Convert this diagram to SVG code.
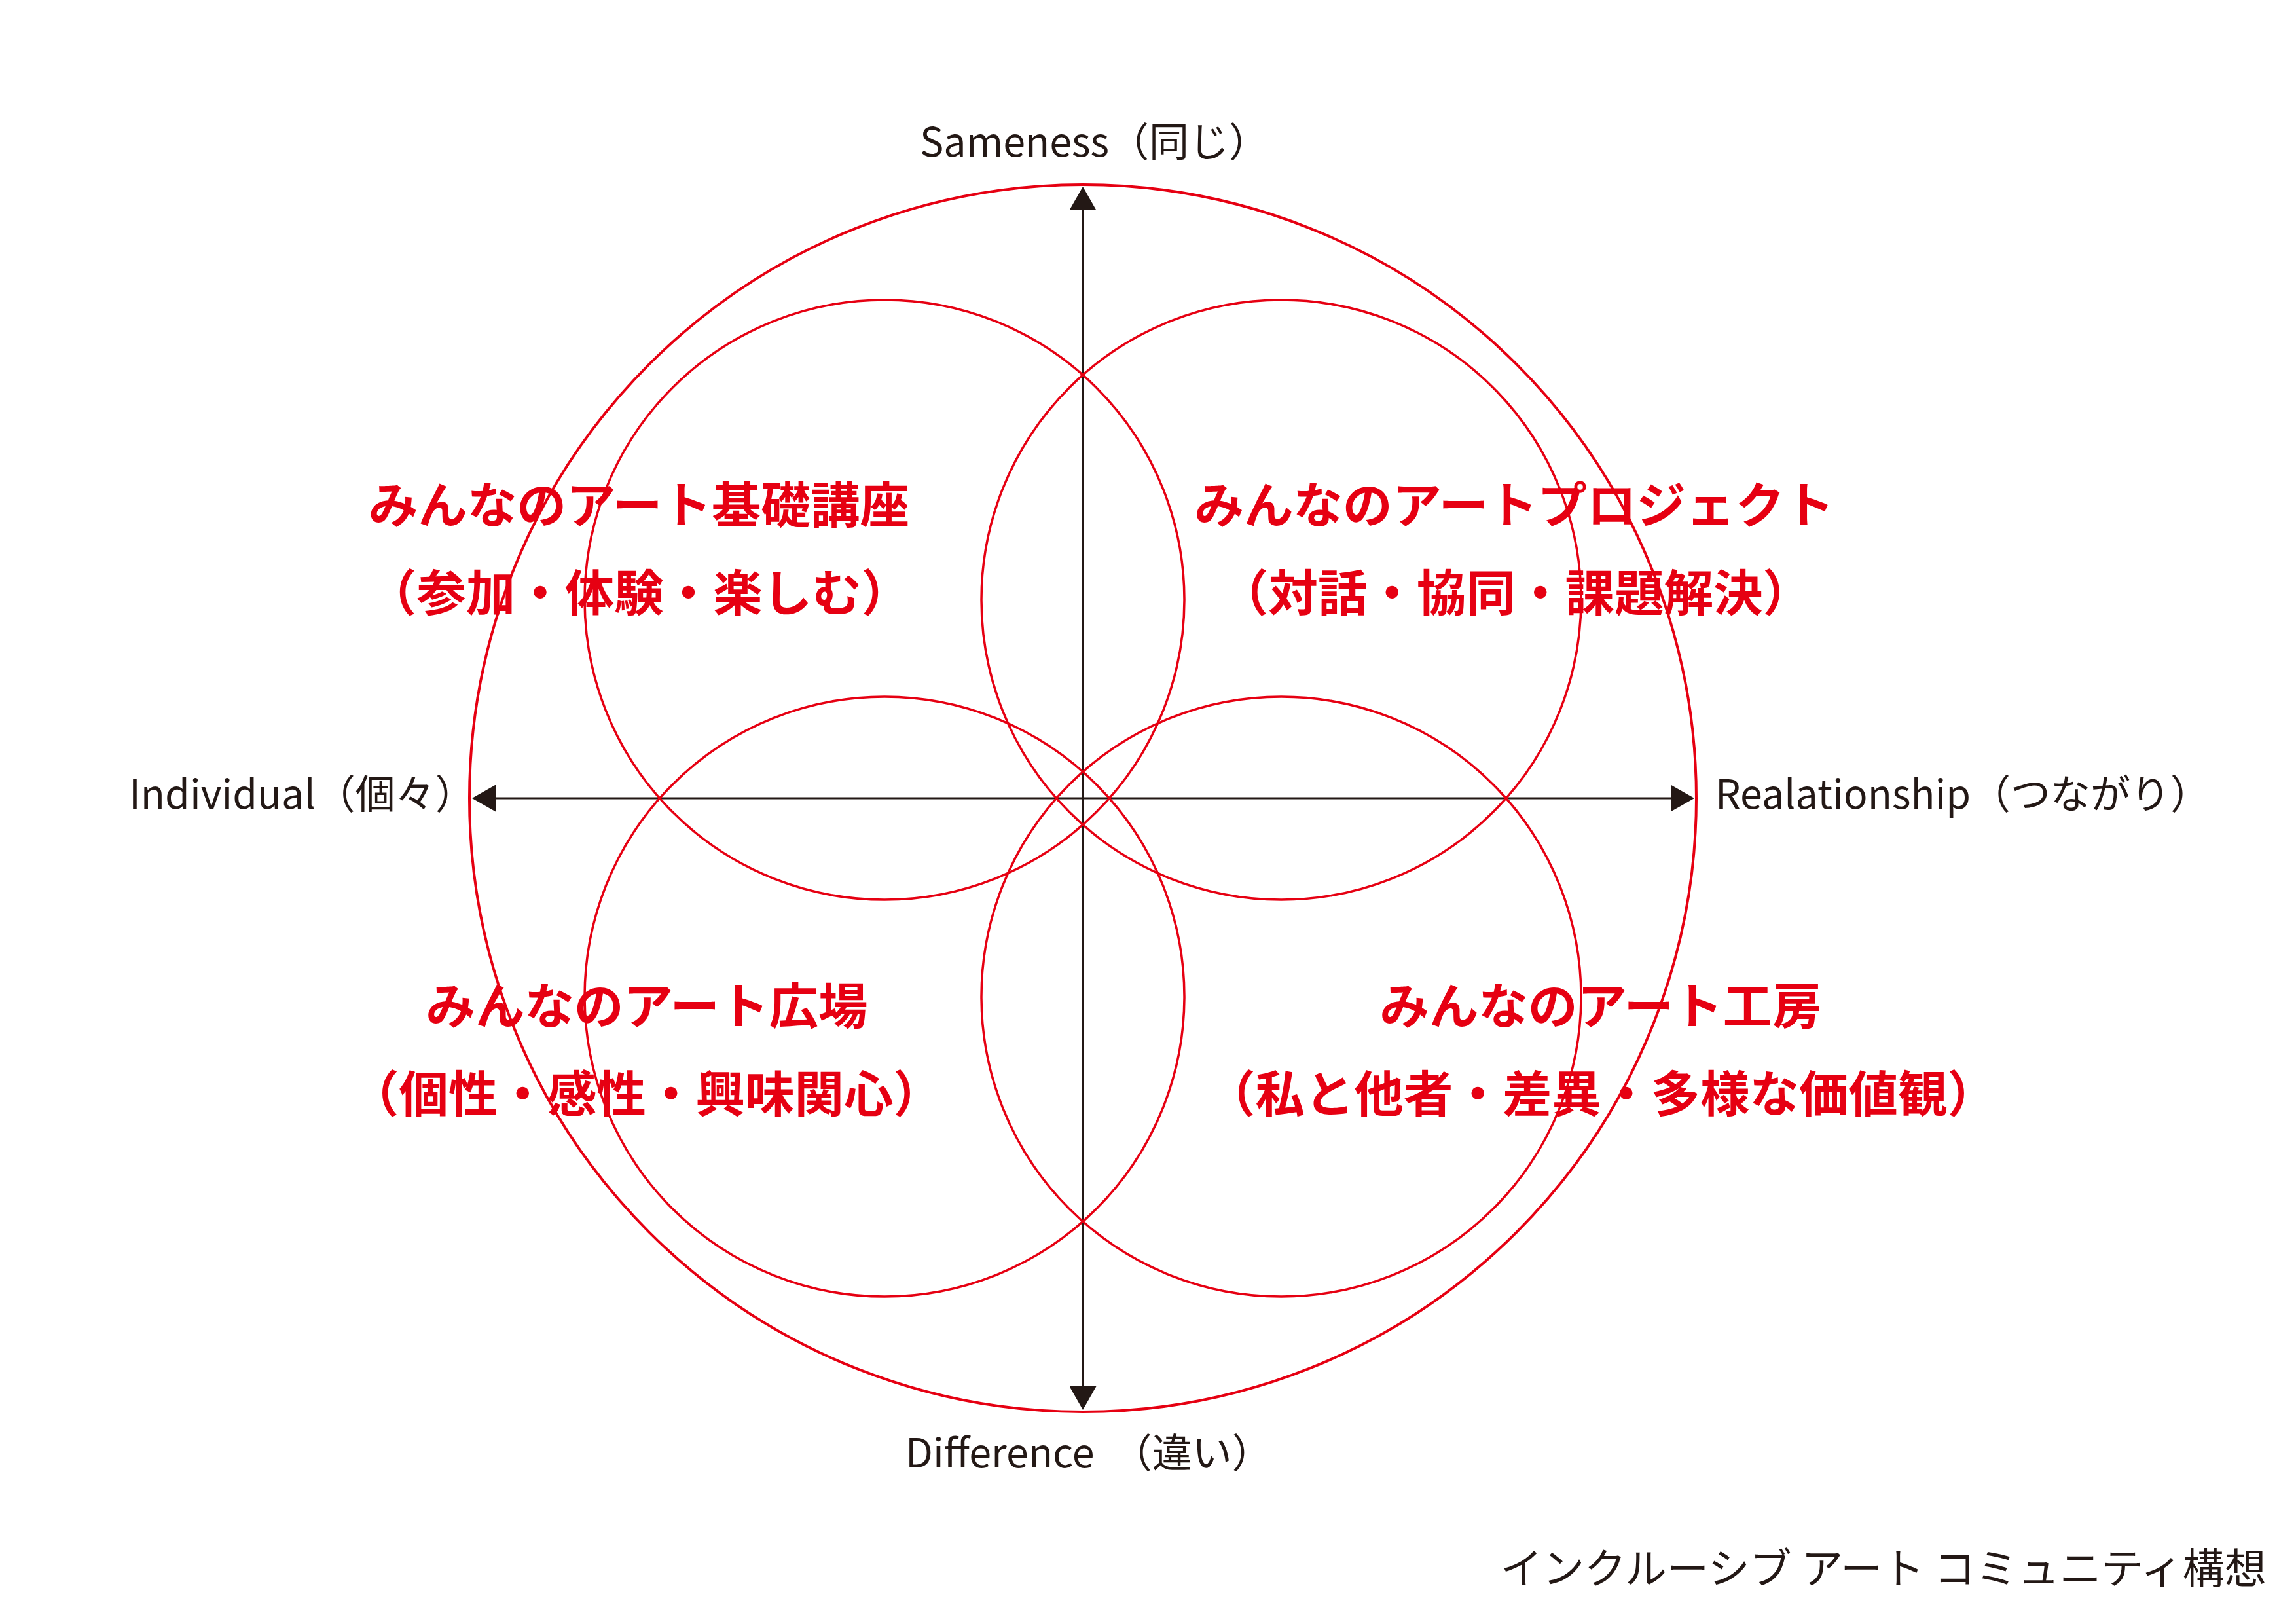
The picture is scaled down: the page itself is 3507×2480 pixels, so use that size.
<svg xmlns="http://www.w3.org/2000/svg" width="3507" height="2480" viewBox="0 0 3507 2480">
<style>
.ring{fill:none;stroke:#e60012;stroke-width:3.5}
.outer{fill:none;stroke:#e60012;stroke-width:4}
.axis{fill:none;stroke:#231815;stroke-width:3;marker-start:url(#arr);marker-end:url(#arr)}
.lbl{font-family:"Noto Sans CJK JP","Noto Sans",sans-serif;font-size:61px;fill:#231815}
.ttl{font-family:"Noto Sans CJK JP",sans-serif;font-weight:bold;font-size:75.5px;fill:#e60012;text-anchor:middle}
.foot{font-family:"Noto Sans CJK JP",sans-serif;font-size:64px;fill:#231815}
</style>
<defs>
<marker id="arr" markerUnits="userSpaceOnUse" markerWidth="36" markerHeight="41" viewBox="0 0 36 41" refX="21" refY="20.5" orient="auto-start-reverse">
<path d="M0,0 L36,20.5 L0,41 Z" fill="#231815"/>
</marker>
</defs>
<rect width="3507" height="2480" fill="#ffffff"/>
<g id="connectors">
<path class="axis" d="M1654,2138 L1654,300"/>
<path class="axis" d="M736,1219 L2573,1219"/>
</g>
<g id="outer-circle">
<circle class="outer" cx="1654" cy="1219" r="937"/>
</g>
<g id="node-kiso">
<circle class="ring" cx="1351" cy="916" r="458"/>
<text class="ttl" x="976" y="799">みんなのアート基礎講座</text>
<text class="ttl" x="976" y="933">（参加・体験・楽しむ）</text>
</g>
<g id="node-project">
<circle class="ring" cx="1957" cy="916" r="458"/>
<text class="ttl" x="2313" y="799">みんなのアートプロジェクト</text>
<text class="ttl" x="2315" y="933">（対話・協同・課題解決）</text>
</g>
<g id="node-hiroba">
<circle class="ring" cx="1351" cy="1522" r="458"/>
<text class="ttl" x="988" y="1564">みんなのアート広場</text>
<text class="ttl" x="987" y="1698">（個性・感性・興味関心）</text>
</g>
<g id="node-koubou">
<circle class="ring" cx="1957" cy="1522" r="458"/>
<text class="ttl" x="2445" y="1564">みんなのアート工房</text>
<text class="ttl" x="2446" y="1698">（私と他者・差異・多様な価値観）</text>
</g>
<g id="label-sameness"><text class="lbl" x="1405" y="239">Sameness（同じ）</text></g>
<g id="label-individual"><text class="lbl" x="197" y="1235">Individual（個々）</text></g>
<g id="label-relationship"><text class="lbl" x="2620" y="1235">Realationship（つながり）</text></g>
<g id="label-difference"><text class="lbl" x="1383" y="2241" xml:space="preserve">Difference  （違い）</text></g>
<g id="footer"><text class="foot" x="2292" y="2418" xml:space="preserve">インクルーシブ アート コミュニティ構想</text></g>
</svg>
